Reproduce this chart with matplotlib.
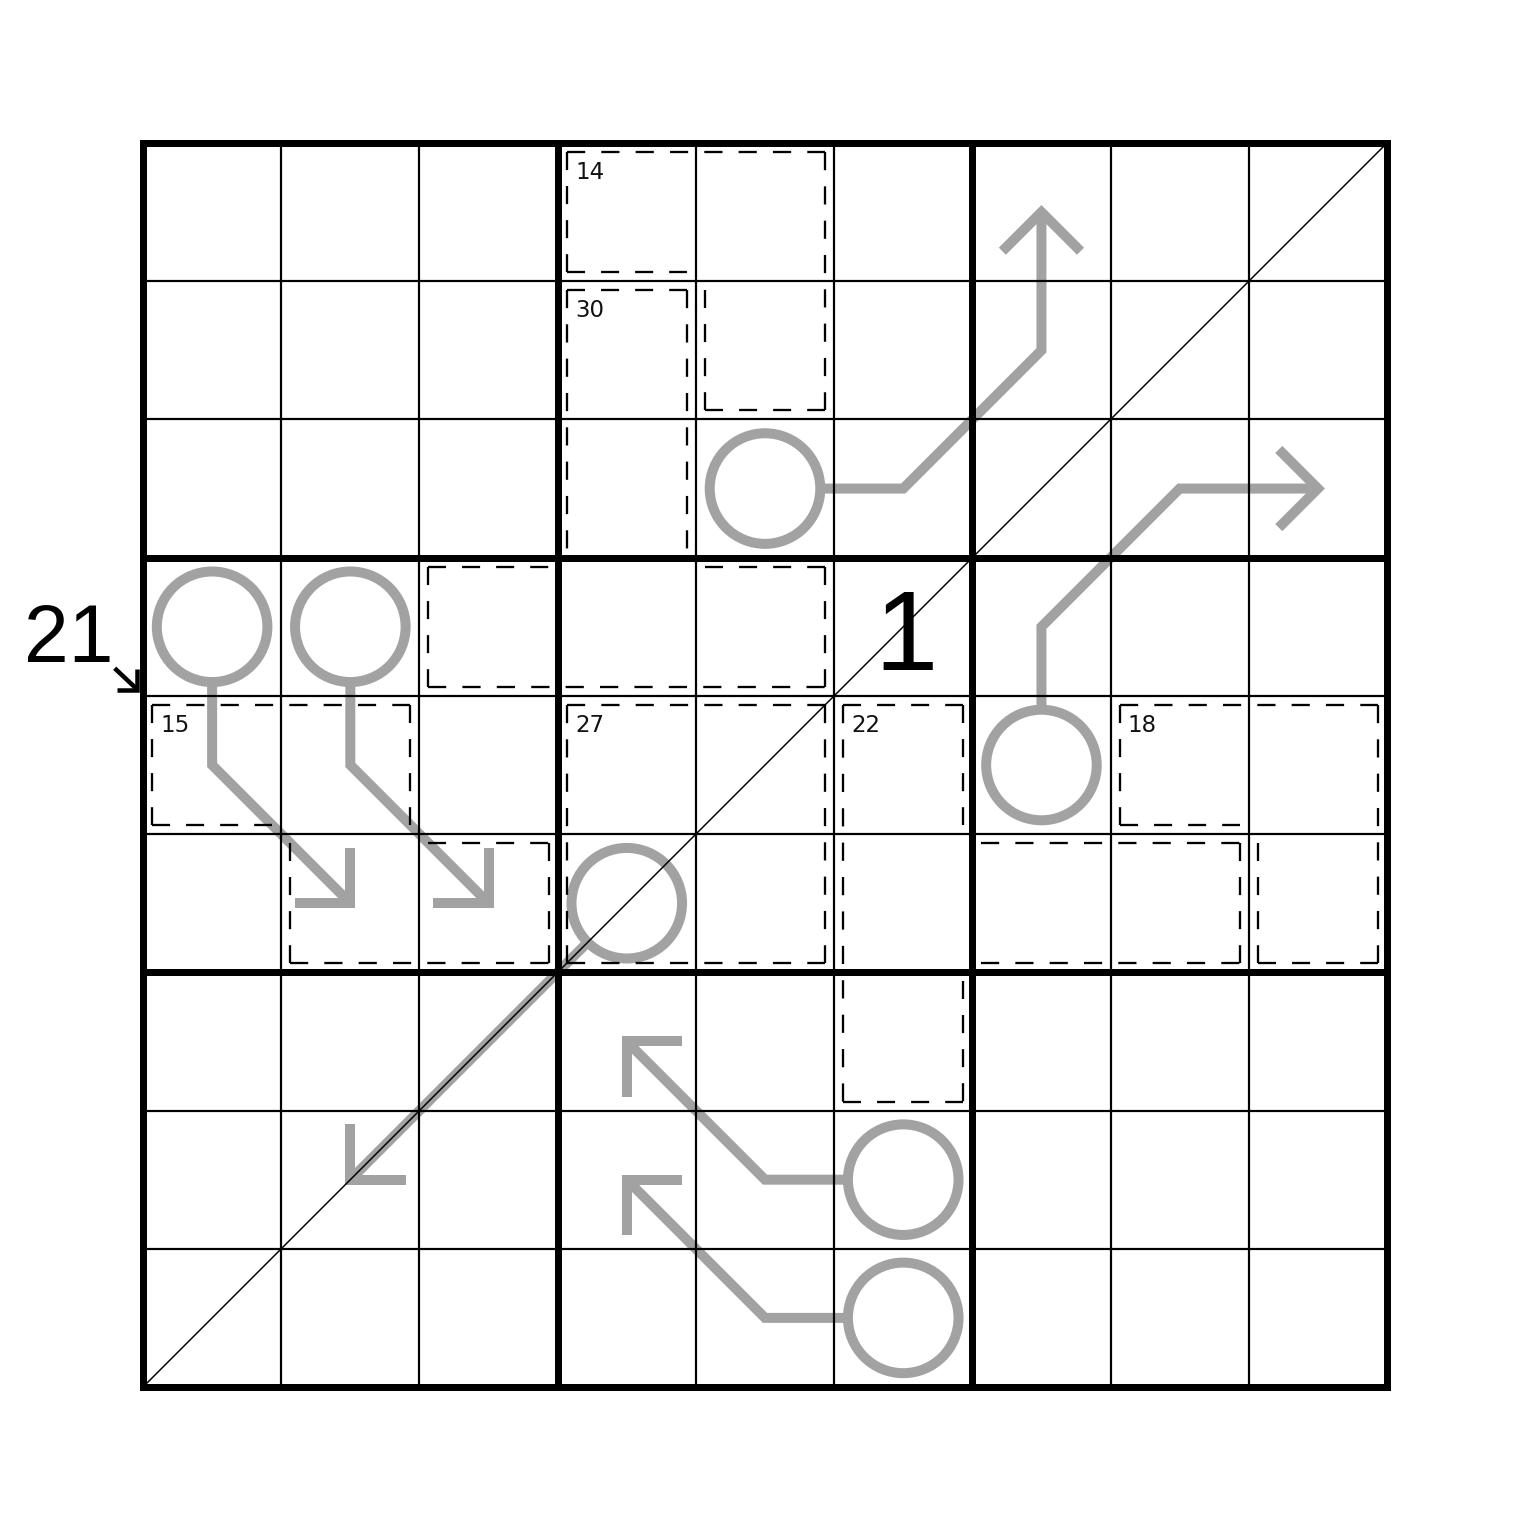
import numpy as np
import matplotlib
matplotlib.use('Agg')
import matplotlib.pyplot as plt
from matplotlib.patches import Circle

plt.rcParams['lines.scale_dashes'] = False
plt.rcParams['font.family'] = ['DejaVu Sans']

# ---------------- data ----------------
cage_sums = [14, 30, 15, 27, 22, 18]
cage_cells = [
    [(0, 3), (0, 4), (1, 4)],
    [(1, 3), (2, 3), (3, 2), (3, 3), (3, 4)],
    [(4, 0), (4, 1), (5, 1), (5, 2)],
    [(4, 3), (4, 4), (5, 3), (5, 4)],
    [(4, 5), (5, 5), (6, 5), (5, 6), (5, 7)],
    [(4, 7), (4, 8), (5, 8)],
]
arrow_bulbs = [(2, 4), (4, 6), (3, 0), (3, 1), (5, 3), (7, 5), (8, 5)]
arrow_paths = [
    [(2, 5), (1, 6), (0, 6)],
    [(3, 6), (2, 7), (2, 8)],
    [(4, 0), (5, 1)],
    [(4, 1), (5, 2)],
    [(7, 1)],
    [(7, 4), (6, 3)],
    [(8, 4), (7, 3)],
]
given_cells = [(3, 5)]
given_digits = ['1']
little_killer_values = ['21']
little_killer_starts = [(4, 0)]   # diagonal going down-right from this cell

# ---------------- layout ----------------
W = 1531
left = 143
s = 1244 / 9.0          # cell size in px
px = 0.72               # points per pixel at dpi 100
gray = '#a2a2a2'

fig = plt.figure(figsize=(W / 100, W / 100), dpi=100)
ax = fig.add_axes([0, 0, 1, 1])
x0 = -left / s
x1 = (W - left) / s
ax.set_xlim(x0, x1)
ax.set_ylim(x1, x0)
ax.axis('off')

# ---- arrows (gray) ----
R = 0.4
L_head = 0.4
for (br, bc), path in zip(arrow_bulbs, arrow_paths):
    cx, cy = bc + 0.5, br + 0.5
    ax.add_patch(Circle((cx, cy), R, fill=False, ec=gray, lw=10 * px, zorder=2))
    pts = [(c + 0.5, r + 0.5) for r, c in path]
    fx, fy = pts[0]
    v = np.array([fx - cx, fy - cy])
    v = v / np.linalg.norm(v)
    start = (cx + R * v[0], cy + R * v[1])
    allp = [start] + pts
    xs = [p[0] for p in allp]
    ys = [p[1] for p in allp]
    ax.plot(xs, ys, color=gray, lw=10 * px, solid_joinstyle='miter',
            solid_capstyle='butt', zorder=2)
    tx, ty = allp[-1]
    px_, py_ = allp[-2]
    d = np.array([tx - px_, ty - py_])
    d = d / np.linalg.norm(d)
    arms = []
    for ang in (np.pi / 4, -np.pi / 4):
        ca, sa = np.cos(ang), np.sin(ang)
        rd = np.array([ca * d[0] - sa * d[1], sa * d[0] + ca * d[1]])
        arms.append((tx - L_head * rd[0], ty - L_head * rd[1]))
    ax.plot([arms[0][0], tx, arms[1][0]], [arms[0][1], ty, arms[1][1]],
            color=gray, lw=10 * px, solid_joinstyle='miter',
            solid_capstyle='butt', zorder=2)

# ---- cages ----
dins = 9.0 / s
dash_px, gap_px = 18.0, 16.0


def cage_segments(cells):
    S = set(cells)
    hs, vs = [], []

    def end(n_in, diag_in, inset_pos, edge_pos):
        if (not n_in) or diag_in:
            return inset_pos
        return edge_pos

    for r, c in cells:
        if (r - 1, c) not in S:  # top
            y = r + dins
            xs = end((r, c - 1) in S, (r - 1, c - 1) in S, c + dins, c)
            xe = end((r, c + 1) in S, (r - 1, c + 1) in S, c + 1 - dins, c + 1)
            hs.append((y, xs, xe))
        if (r + 1, c) not in S:  # bottom
            y = r + 1 - dins
            xs = end((r, c - 1) in S, (r + 1, c - 1) in S, c + dins, c)
            xe = end((r, c + 1) in S, (r + 1, c + 1) in S, c + 1 - dins, c + 1)
            hs.append((y, xs, xe))
        if (r, c - 1) not in S:  # left
            x = c + dins
            ys = end((r - 1, c) in S, (r - 1, c - 1) in S, r + dins, r)
            ye = end((r + 1, c) in S, (r + 1, c - 1) in S, r + 1 - dins, r + 1)
            vs.append((x, ys, ye))
        if (r, c + 1) not in S:  # right
            x = c + 1 - dins
            ys = end((r - 1, c) in S, (r - 1, c + 1) in S, r + dins, r)
            ye = end((r + 1, c) in S, (r + 1, c + 1) in S, r + 1 - dins, r + 1)
            vs.append((x, ys, ye))

    def merge(segs):
        segs = sorted(segs, key=lambda t: (round(t[0], 6), t[1]))
        out = []
        for k, a, b in segs:
            if out and abs(out[-1][0] - k) < 1e-6 and abs(out[-1][2] - a) < 1e-6:
                out[-1] = (out[-1][0], out[-1][1], b)
            else:
                out.append((k, a, b))
        return out
    return merge(hs), merge(vs)


def dashed(p, q):
    L = np.hypot(q[0] - p[0], q[1] - p[1]) * s
    n = max(1, int(round((L + gap_px) / (dash_px + gap_px))))
    sc = L / (n * dash_px + (n - 1) * gap_px)
    ax.plot([p[0], q[0]], [p[1], q[1]], color='black', lw=2.3 * px,
            dashes=(dash_px * sc * px, gap_px * sc * px),
            dash_capstyle='butt', zorder=3)


for total, cells in zip(cage_sums, cage_cells):
    hs, vs = cage_segments(cells)
    for y, a, b in hs:
        dashed((a, y), (b, y))
    for x, a, b in vs:
        dashed((x, a), (x, b))
    r0, c0 = min(cells)
    ax.text(c0 + 0.125, r0 + 0.262, str(total), fontsize=16.5, ha='left',
            va='baseline', color='#111111', zorder=5)

# ---- grid ----
for i in range(10):
    thick = (i % 3 == 0)
    lw = (7 if thick else 2.2) * px
    cap = 'projecting' if thick else 'butt'
    z = 5 if thick else 4
    ax.plot([i, i], [0, 9], color='black', lw=lw, solid_capstyle=cap, zorder=z)
    ax.plot([0, 9], [i, i], color='black', lw=lw, solid_capstyle=cap, zorder=z)

# ---- diagonal ----
ax.plot([0, 9], [9, 0], color='black', lw=1.5 * px, zorder=4)

# ---- givens ----
for (r, c), dgt in zip(given_cells, given_digits):
    ax.text(c + 0.52, r + 0.813, dgt, fontsize=82, ha='center',
            va='baseline', color='black', family='Liberation Sans', zorder=6)

# ---- little killer ----
for val, (r, c) in zip(little_killer_values, little_killer_starts):
    ax.text(c - 0.535, r - 0.245, val, fontsize=58, ha='center', va='baseline',
            color='black', family='Liberation Sans', zorder=6)
    tip = (c - 0.04, r - 0.045)
    tail = (c - 0.205, r - 0.2)
    ax.plot([tail[0], tip[0]], [tail[1], tip[1]], color='black', lw=4.5 * px,
            solid_capstyle='butt', zorder=6)
    ax.plot([tip[0] - 0.15, tip[0], tip[0]], [tip[1], tip[1], tip[1] - 0.15],
            color='black', lw=4.5 * px, solid_joinstyle='miter',
            solid_capstyle='butt', zorder=6)

fig.savefig('out.png', dpi=100, facecolor='white')
